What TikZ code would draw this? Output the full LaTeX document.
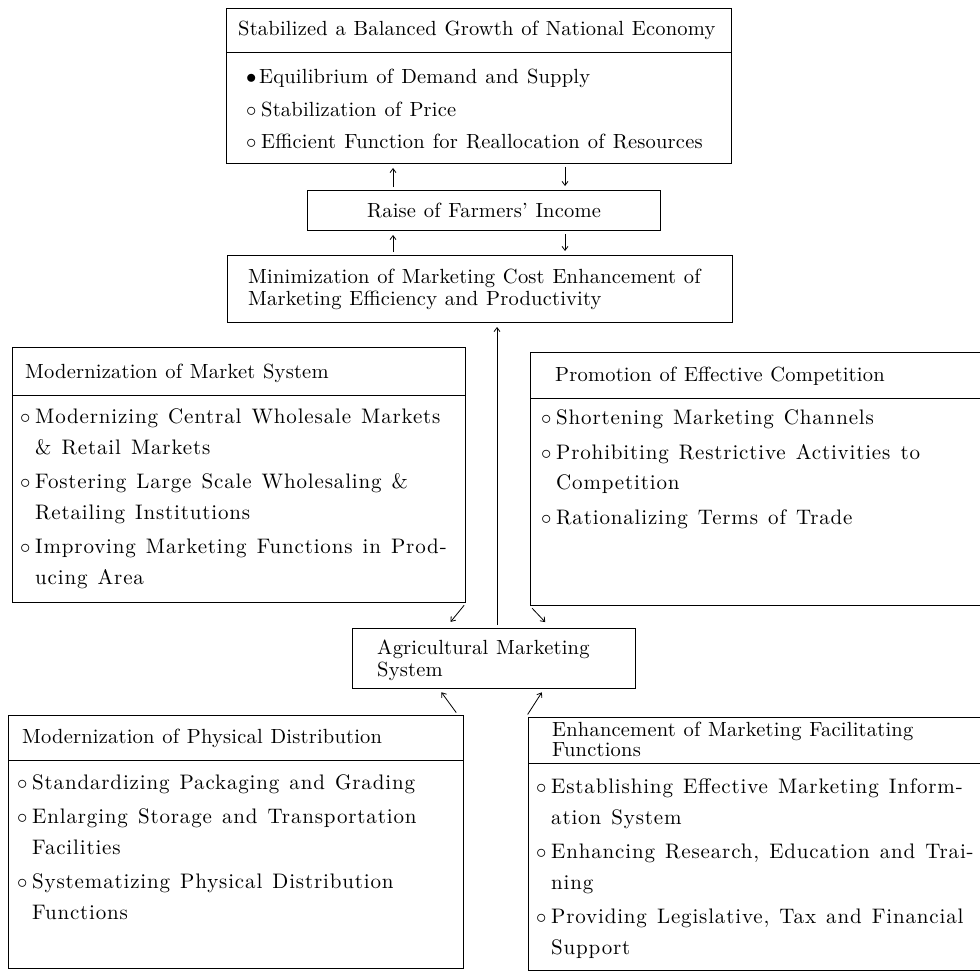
\documentclass[tikz,border=0pt]{standalone}
\usepackage{fontspec}
\usepackage{tikz}
\usetikzlibrary{arrows.meta}
\newfontfamily\hdfont{lmroman10-regular.otf}[Ligatures=TeX, LetterSpace=1]
\newfontfamily\lsfont{lmroman10-regular.otf}[Ligatures=TeX, LetterSpace=4]
\newcommand{\hdtype}{\hdfont\fontsize{20.5}{22}\selectfont\spaceskip=0.38em\relax}
\newcommand{\hdtight}{\hdfont\fontsize{20.5}{20}\selectfont\spaceskip=0.38em\relax}
\newcommand{\hdlist}{\hdfont\fontsize{20.5}{30.5}\selectfont\spaceskip=0.4em\relax}
\newcommand{\lstype}{\lsfont\fontsize{21}{30.5}\selectfont\spaceskip=0.48em\relax}
\newcommand{\itm}{\makebox[15pt][l]{$\circ$}}
\newcommand{\blt}{\makebox[13pt][l]{$\bullet$}}
\newcommand{\cnt}{\hspace*{15pt}}

\begin{document}
\begin{tikzpicture}[
    x=1pt, y=-1pt,
    >={Straight Barb[length=4pt,width=6pt]},
    frame/.style={draw, line width=1pt, inner sep=0pt, anchor=north west},
    hd/.style={anchor=base west, inner sep=0pt, align=left, font=\hdtype},
    lst/.style={anchor=base west, inner sep=0pt, align=left, font=\lstype},
    link/.style={->, line width=0.8pt, shorten <=3pt, shorten >=4pt},
]
\useasboundingbox (0,0) rectangle (980,971);
\clip (0,0) rectangle (980,971);
\node[frame, minimum width=505pt, minimum height=155pt] (top) at (226,8) {};
\node[frame, minimum width=353pt, minimum height=40pt, font=\hdtype]
      (raise) at (307,190) {Raise of Farmers' Income};
\node[frame, minimum width=505pt, minimum height=67pt] (minim) at (227,255) {};
\node[frame, minimum width=453pt, minimum height=255pt] (mkt) at (12,347) {};
\node[frame, minimum width=460pt, minimum height=253pt] (prom) at (530,352) {};
\node[frame, minimum width=283pt, minimum height=60pt] (agri) at (352,628) {};
\node[frame, minimum width=455pt, minimum height=253pt] (phys) at (8,715) {};
\node[frame, minimum width=462pt, minimum height=253pt] (fac) at (528,717) {};

\node[hd] (topHd) at (238,36) {Stabilized a Balanced Growth of National Economy};
\node[hd, font=\hdlist] (topLst) at (246,149) {\blt Equilibrium of Demand and Supply\\[2pt]
    \itm Stabilization of Price\\[2pt]
    \itm Efficient Function for Reallocation of Resources};
\node[hd] (minimTxt) at (248,305) {Minimization of Marketing Cost Enhancement of\\
    Marketing Efficiency and Productivity};
\node[hd] (mktHd) at (25,378) {Modernization of Market System};
\node[lst] (mktLst) at (20,584) {\itm Modernizing Central Wholesale Markets\\
    \cnt\& Retail Markets\\[4pt]
    \itm Fostering Large Scale Wholesaling \&\\
    \cnt Retailing Institutions\\[4pt]
    \itm Improving Marketing Functions in Prod-\\
    \cnt ucing Area};
\node[hd] (promHd) at (555,381) {Promotion of Effective Competition};
\node[lst] (promLst) at (541,524) {\itm Shortening Marketing Channels\\[4pt]
    \itm Prohibiting Restrictive Activities to\\
    \cnt Competition\\[4pt]
    \itm Rationalizing Terms of Trade};
\node[hd] (agriTxt) at (377,676) {Agricultural Marketing\\ System};
\node[hd] (physHd) at (22,743) {Modernization of Physical Distribution};
\node[lst] (physLst) at (17,919) {\itm Standardizing Packaging and Grading\\[4pt]
    \itm Enlarging Storage and Transportation\\
    \cnt Facilities\\[4pt]
    \itm Systematizing Physical Distribution\\
    \cnt Functions};
\node[hd, font=\hdtight] (facHd) at (552,756) {Enhancement of Marketing Facilitating\\ Functions};
\node[lst] (facLst) at (536,954) {\itm Establishing Effective Marketing Inform-\\
    \cnt ation System\\[4pt]
    \itm Enhancing Research, Education and Trai-\\
    \cnt ning\\[4pt]
    \itm Providing Legislative, Tax and Financial\\
    \cnt Support};

\foreach \bx/\yy in {top/53, mkt/395, prom/398, phys/760, fac/763}
    \draw[line width=1pt] (\bx.west |- 0,\yy) -- (\bx.east |- 0,\yy);

\coordinate (lnL) at (393,0);
\coordinate (lnR) at (565,0);
\coordinate (spine) at (497,0);
\draw[link] (raise.north -| lnL) -- (top.south -| lnL);
\draw[link] (top.south -| lnR) -- (raise.north -| lnR);
\draw[link] (minim.north -| lnL) -- (raise.south -| lnL);
\draw[link] (raise.south -| lnR) -- (minim.north -| lnR);
\draw[link] (agri.north -| spine) -- (minim.south -| spine);
\draw[link] (mkt.south east) -- ([xshift=-46pt,yshift=3pt]agri.north);
\draw[link] (prom.south west) -- ([xshift=54pt,yshift=3pt]agri.north);
\draw[link] ([xshift=-6pt]phys.north east) -- ([xshift=-55pt]agri.south);
\draw[link] ([xshift=-2pt]fac.north west) -- ([xshift=50pt]agri.south);
\end{tikzpicture}
\end{document}
